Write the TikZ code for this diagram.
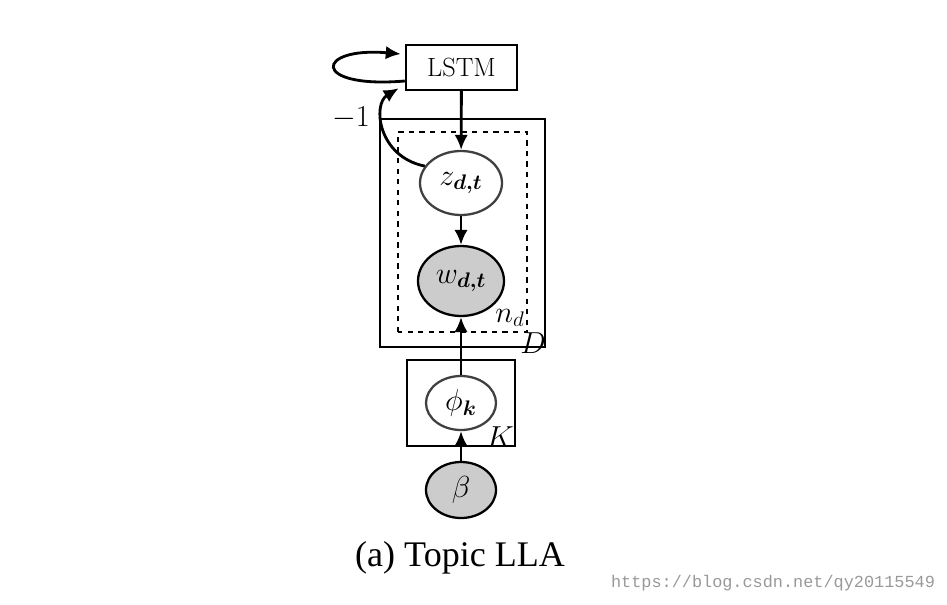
\documentclass[tikz,border=0pt]{standalone}
\usepackage{bm}
\usepackage{fontspec}
\newfontfamily\capfont{Liberation Serif}
\newfontfamily\urlfont{Liberation Mono}
\usetikzlibrary{shapes.geometric}
\usetikzlibrary{arrows.meta}

\begin{document}
\begin{tikzpicture}[
  latent/.style={ellipse,draw=black!75,line width=1.3pt,fill=white,inner sep=0pt},
  obs/.style={ellipse,draw=black,line width=1.3pt,fill=black!20,inner sep=0pt},
  plate/.style={draw,line width=1.4pt},
  edge/.style={line width=1.6pt,-{Latex[length=3mm,width=2.7mm]}},
  lbl/.style={font=\fontsize{18}{21}\selectfont,inner sep=1pt}]
\useasboundingbox (0,0) rectangle (18.94,12.08);

\draw[plate] (7.6,5.14) rectangle (10.9,9.70);
\draw[dashed,line width=0.8pt] (7.96,5.44) rectangle (10.54,9.44);
\draw[plate] (8.14,3.16) rectangle (10.3,4.88);

  \node[draw,line width=1.4pt,fill=white,minimum width=2.22cm,minimum height=0.9cm,font=\fontsize{15}{18}\selectfont] (lstm) at (9.23,10.73) {LSTM};
  \node[latent,lbl,minimum width=1.64cm,minimum height=1.28cm] (z) at (9.22,8.42) {$z_{\bm{d,t}}$};
  \node[obs,lbl,minimum width=1.72cm,minimum height=1.4cm] (w) at (9.22,6.46) {$w_{\bm{d,t}}$};
  \node[latent,lbl,minimum width=1.4cm,minimum height=1.08cm] (phi) at (9.22,4.02) {$\phi_{\bm{k}}$};
  \node[obs,lbl,minimum width=1.4cm,minimum height=1.12cm] (beta) at (9.22,2.28) {$\beta$};

  \node[lbl] (nd) at (10.2,5.72) {$n_d$};
  \node[lbl] (dlab) at (10.66,5.22) {$D$};
  \node[lbl] (klab) at (10.0,3.34) {$K$};
  \node[lbl] (minus) at (7.02,9.72) {$-1$};

  \draw[edge] (lstm) -- (z);
  \draw[edge] (z) -- (w);
  \draw[edge] (phi) -- (w);
  \draw[edge] (beta) -- (phi);
  \draw[edge] ([yshift=-0.27cm]lstm.west) .. controls (6.2,10.3) and (6.3,11.15) .. ([xshift=-0.08cm,yshift=0.27cm]lstm.west);
  \draw[edge] (z.155) .. controls (7.55,8.95) and (7.45,10.0) .. ([xshift=-0.12cm,yshift=0.06cm]lstm.south west);

  \node[font=\capfont\fontsize{20.5}{24}\selectfont] (cap) at (9.2,0.92) {(a) Topic LLA};
  \node[font=\urlfont\fontsize{9.6}{12}\selectfont,text=black!40] (url) at (15.46,0.42) {https://blog.csdn.net/qy20115549};

 \end{tikzpicture}
\end{document}
